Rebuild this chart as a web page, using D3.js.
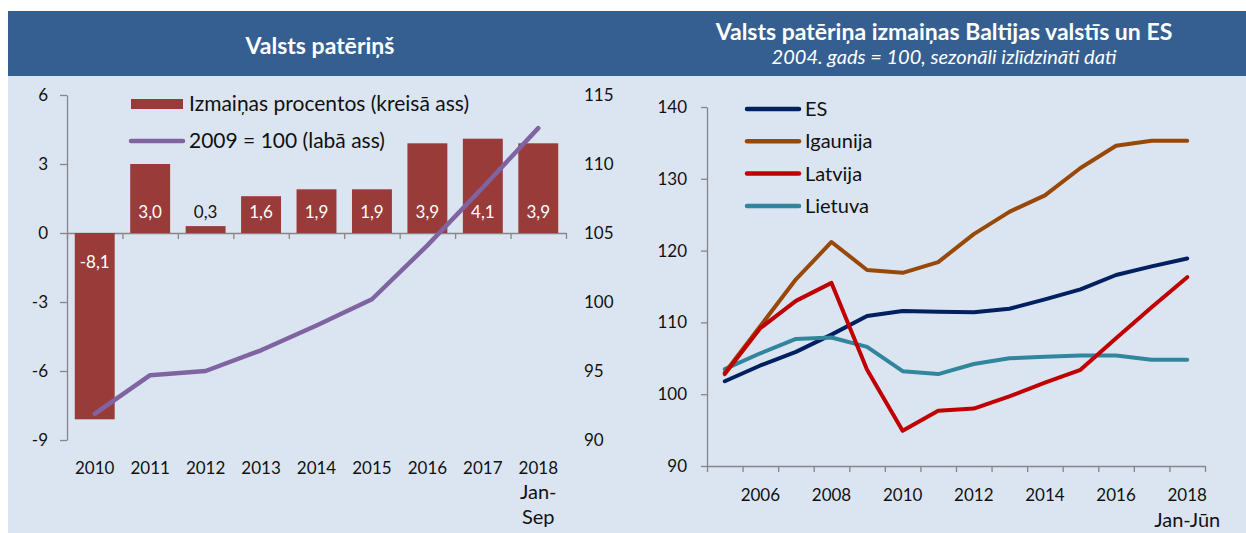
<!DOCTYPE html>
<html><head><meta charset="utf-8">
<script src="https://cdn.jsdelivr.net/npm/d3@7"></script>
<style>
body{margin:0;background:#fff;}
text{font-family:Lato, "Open Sans", sans-serif;}
</style>
</head><body>
<svg id="c" width="1246" height="533"></svg>
<script>
// ---------- data: left chart ----------
const years = ["2010","2011","2012","2013","2014","2015","2016","2017","2018"];
const yearLabels = [["2010"],["2011"],["2012"],["2013"],["2014"],["2015"],["2016"],["2017"],["2018","Jan-","Sep"]];
const changePct = [-8.1, 3.0, 0.3, 1.6, 1.9, 1.9, 3.9, 4.1, 3.9];
const changeLabels = ["-8,1","3,0","0,3","1,6","1,9","1,9","3,9","4,1","3,9"];
const index2009 = [91.9, 94.7, 95.0, 96.5, 98.3, 100.2, 104.1, 108.3, 112.6];
const leftTicks = [-9, -6, -3, 0, 3, 6];
const rightTicks = [90, 95, 100, 105, 110, 115];
const leftLegend = ["Izmaiņas procentos (kreisā ass)", "2009 = 100 (labā ass)"];

// ---------- data: right chart ----------
const balticYears = [2005,2006,2007,2008,2009,2010,2011,2012,2013,2014,2015,2016,2017,2018];
const balticLabelYears = [2006,2008,2010,2012,2014,2016,2018];
const seriesNames = ["ES","Igaunija","Latvija","Lietuva"];
const esValues       = [101.8, 104.0, 105.9, 108.3, 110.9, 111.6, 111.5, 111.4, 111.9, 113.2, 114.6, 116.6, 117.8, 118.9];
const igaunijaValues = [103.0, 109.5, 116.0, 121.2, 117.3, 116.9, 118.4, 122.3, 125.4, 127.7, 131.5, 134.6, 135.3, 135.3];
const latvijaValues  = [102.8, 109.2, 113.0, 115.5, 103.4, 94.9, 97.7, 98.0, 99.7, 101.6, 103.4, 107.8, 112.1, 116.3];
const lietuvaValues  = [103.5, 105.7, 107.7, 107.9, 106.6, 103.2, 102.8, 104.2, 105.0, 105.2, 105.4, 105.4, 104.8, 104.8];
const rightYTicks = [90, 100, 110, 120, 130, 140];

// ---------- styles ----------
const C = {header:"#365F91", bg:"#DBE5F1", bar:"#993B39", purple:"#8064A2", axis:"#868686", text:"#111",
  series:{"ES":"#002060","Igaunija":"#984807","Latvija":"#C00000","Lietuva":"#31859C"}};

const svg = d3.select("#c");
svg.append("rect").attr("x",8).attr("y",11).attr("width",1238).attr("height",65).attr("fill",C.header);
svg.append("rect").attr("x",8).attr("y",76).attr("width",1238).attr("height",457).attr("fill",C.bg);

// titles
svg.append("text").attr("x",320).attr("y",54).attr("text-anchor","middle").attr("fill","#fff")
  .attr("font-weight","bold").attr("font-size",23).text("Valsts patēriņš");
svg.append("text").attr("x",944).attr("y",40).attr("text-anchor","middle").attr("fill","#fff")
  .attr("font-weight","bold").attr("font-size",23).text("Valsts patēriņa izmaiņas Baltijas valstīs un ES");
svg.append("text").attr("x",944).attr("y",64).attr("text-anchor","middle").attr("fill","#fff")
  .attr("font-style","italic").attr("font-size",20).text("2004. gads = 100, sezonāli izlīdzināti dati");

function styleAxis(g){
  g.selectAll("path,line").attr("stroke",C.axis).attr("stroke-width",1.3);
  g.selectAll("text").attr("fill",C.text).attr("font-size",17).attr("font-family","Lato, sans-serif");
}
const hy = v => String(v).replace("−","-");

// ---------- left chart ----------
const xL = d3.scaleBand().domain(years).range([67,566]).paddingInner(0.28).paddingOuter(0.14);
const yL = d3.scaleLinear().domain([-9,6]).range([440,95]);
const yR = d3.scaleLinear().domain([90,115]).range([440,95]);
const xLidx = d3.scaleLinear().domain([0,years.length]).range([67,566]);

const left = svg.append("g");
left.append("g").attr("transform","translate(67,0)")
  .call(d3.axisLeft(yL).tickValues(leftTicks).tickSize(7).tickPadding(12).tickSizeOuter(0).tickFormat(d=>hy(d)))
  .call(styleAxis);
left.append("g").attr("transform",`translate(0,${yL(0)})`)
  .call(d3.axisBottom(xLidx).tickValues(d3.range(years.length+1)).tickSize(6).tickSizeOuter(0).tickFormat(""))
  .call(styleAxis);
left.append("g").attr("transform","translate(584,0)")
  .call(d3.axisRight(yR).tickValues(rightTicks).tickSize(0).tickPadding(0))
  .call(g=>g.select(".domain").remove())
  .call(styleAxis);

left.selectAll("rect.bar").data(years).join("rect").attr("class","bar")
  .attr("x",d=>xL(d)).attr("width",xL.bandwidth())
  .attr("y",(d,i)=>yL(Math.max(0,changePct[i])))
  .attr("height",(d,i)=>Math.abs(yL(changePct[i])-yL(0)))
  .attr("fill",C.bar);

left.selectAll("text.bl").data(years).join("text").attr("class","bl")
  .attr("x",d=>xL(d)+xL.bandwidth()/2)
  .attr("y",(d,i)=>changePct[i]<0 ? yL(0)+29 : yL(0)-21)
  .attr("dy","0.35em").attr("text-anchor","middle").attr("font-size",17)
  .attr("fill",(d,i)=> Math.abs(yL(changePct[i])-yL(0))>25 ? "#fff" : C.text)
  .text((d,i)=>changeLabels[i]);

left.append("path").datum(index2009)
  .attr("d", d3.line().x((d,i)=>xL(years[i])+xL.bandwidth()/2).y(d=>yR(d)))
  .attr("fill","none").attr("stroke",C.purple).attr("stroke-width",4.5)
  .attr("stroke-linejoin","round").attr("stroke-linecap","round");

const xlab = left.selectAll("text.xl").data(years).join("text").attr("class","xl")
  .attr("text-anchor","middle").attr("font-size",17).attr("fill",C.text);
xlab.each(function(d,i){
  const t = d3.select(this);
  yearLabels[i].forEach((s,j)=>{
    t.append("tspan").attr("x",xL(d)+xL.bandwidth()/2).attr("y",474+j*25)
      .attr("font-size", j>0 ? 20 : 17).text(s);
  });
});

// left legend
left.append("rect").attr("x",131).attr("y",99).attr("width",52).attr("height",10).attr("fill",C.bar);
left.append("line").attr("x1",131).attr("x2",183).attr("y1",141).attr("y2",141)
  .attr("stroke",C.purple).attr("stroke-width",4.5).attr("stroke-linecap","round");
left.selectAll("text.lg").data(leftLegend).join("text").attr("class","lg")
  .attr("x",189).attr("y",(d,i)=>104+i*37).attr("dy","0.35em")
  .attr("font-size",21).attr("fill",C.text).text(d=>d);

// ---------- right chart ----------
const xB = d3.scaleBand().domain(balticYears).range([707,1205]);
const xBidx = d3.scaleLinear().domain([0,balticYears.length]).range([707,1205]);
const yB = d3.scaleLinear().domain([90,140]).range([466,107]);
const right = svg.append("g");
right.append("g").attr("transform","translate(707,0)")
  .call(d3.axisLeft(yB).tickValues(rightYTicks).tickSize(6).tickPadding(14).tickSizeOuter(0))
  .call(styleAxis);
right.append("g").attr("transform","translate(0,466)")
  .call(d3.axisBottom(xBidx).tickValues(d3.range(balticYears.length+1)).tickSize(6).tickSizeOuter(0).tickFormat(""))
  .call(styleAxis);
right.selectAll("text.xr").data(balticLabelYears).join("text").attr("class","xr")
  .attr("x",d=>xB(d)+xB.bandwidth()/2).attr("y",501).attr("text-anchor","middle")
  .attr("font-size",17).attr("fill",C.text).text(d=>d);
right.append("text").attr("x",xB(2018)+xB.bandwidth()/2).attr("y",527).attr("text-anchor","middle")
  .attr("font-size",20).attr("fill",C.text).text("Jan-Jūn");

const seriesData = {"ES":esValues,"Igaunija":igaunijaValues,"Latvija":latvijaValues,"Lietuva":lietuvaValues};
const drawOrder = ["ES","Lietuva","Igaunija","Latvija"];
const lineB = d3.line().x((d,i)=>xB(balticYears[i])+xB.bandwidth()/2).y(d=>yB(d));
right.selectAll("path.s").data(drawOrder).join("path").attr("class","s")
  .attr("d",d=>lineB(seriesData[d])).attr("fill","none")
  .attr("stroke",d=>C.series[d]).attr("stroke-width",4)
  .attr("stroke-linejoin","round").attr("stroke-linecap","round");

const lg = right.selectAll("g.lg").data(seriesNames).join("g").attr("class","lg")
  .attr("transform",(d,i)=>`translate(0,${109+i*32.3})`);
lg.append("line").attr("x1",747).attr("x2",799).attr("stroke",d=>C.series[d]).attr("stroke-width",4.5).attr("stroke-linecap","round");
lg.append("text").attr("x",805).attr("dy","0.35em").attr("font-size",20).attr("fill",C.text).text(d=>d);
</script>
</body></html>
